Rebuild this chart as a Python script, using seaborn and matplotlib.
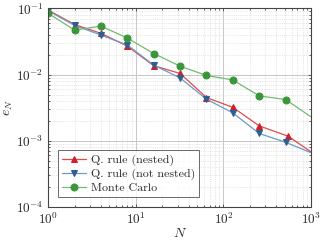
import numpy as np
import pandas as pd
import matplotlib
matplotlib.use("Agg")
import matplotlib.pyplot as plt
import seaborn as sns

# Data
n_nested = [1, 2, 4, 8, 16, 32, 64, 128, 256, 550, 1000]
e_nested = [0.094, 0.057, 0.042, 0.0269, 0.0136, 0.0104, 0.0045, 0.0032, 0.00168, 0.00117, 0.00068]

n_not_nested = [1, 2, 4, 8, 16, 32, 64, 128, 256, 512, 1000]
e_not_nested = [0.092, 0.0553, 0.0395, 0.0279, 0.0139, 0.0089, 0.00425, 0.00264, 0.00129, 0.00095, 0.00066]

n_mc = [1, 2, 4, 8, 16, 32, 64, 128, 256, 512, 1000]
e_mc = [0.084, 0.047, 0.054, 0.0356, 0.0208, 0.0134, 0.0097, 0.0083, 0.00477, 0.0042, 0.0023]

labels = ["Q. rule (nested)", "Q. rule (not nested)", "Monte Carlo"]

sns.set_theme(style="ticks")
plt.rcParams["font.family"] = ["cmr10", "DejaVu Serif"]
plt.rcParams["mathtext.fontset"] = "cm"
plt.rcParams["axes.formatter.use_mathtext"] = True

fig = plt.figure(figsize=(3.24, 2.4), dpi=100)
ax = fig.add_axes([0.149, 0.1375, 0.811, 0.8275])

series = [
    (n_nested, e_nested, "^", "#d0202a", "#e04a4a"),
    (n_not_nested, e_not_nested, "v", "#2d6092", "#6a9ac6"),
    (n_mc, e_mc, "o", "#3a963a", "#72bb72"),
]
for (n, e, mk, mc, lc), lab in zip(series, labels):
    df = pd.DataFrame({"N": n, "e": e})
    sns.lineplot(data=df, x="N", y="e", ax=ax, color=lc, lw=0.9,
                 marker=mk, markersize=5 if mk == "o" else 4.5,
                 markerfacecolor=mc, markeredgecolor=mc,
                 markevery=list(range(len(n) - 1)), label=lab)

ax.set_xscale("log")
ax.set_yscale("log")
ax.set_xlim(1, 1000)
ax.set_ylim(1e-4, 1e-1)

ax.grid(True, which="major", color="#c8c8c8", lw=0.7, ls="-")
ax.grid(True, which="minor", color="#d0d0d0", lw=0.5, ls=":")
ax.set_axisbelow(True)
for s in ax.spines.values():
    s.set_color("#444444")
    s.set_linewidth(0.8)
ax.tick_params(which="both", direction="in", color="#444444", labelsize=9.5,
               top=True, right=True, length=2.5, width=0.6)
ax.tick_params(which="minor", length=1.5)

ax.set_xlabel("$N$", fontsize=10, labelpad=0)
ax.set_ylabel("$e_N$", fontsize=10, labelpad=1)

leg = ax.legend(loc="lower left", bbox_to_anchor=(0.015, 0.02), fontsize=8.6,
                frameon=True, fancybox=False, handlelength=2.0,
                borderpad=0.35, labelspacing=0.2, handletextpad=0.4)
leg.get_frame().set_edgecolor("#444444")
leg.get_frame().set_linewidth(0.7)

fig.savefig("out.png", dpi=100)
